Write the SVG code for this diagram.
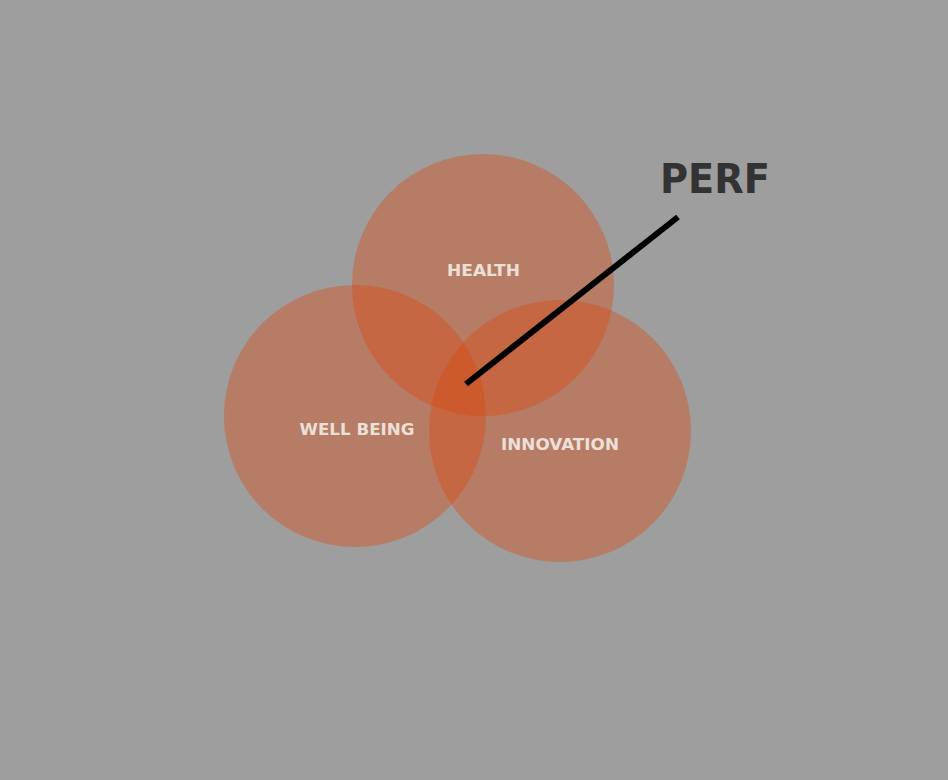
<svg xmlns="http://www.w3.org/2000/svg" width="948" height="780" viewBox="0 0 948 780">
  <style>
    .ring { fill: #da4910; fill-opacity: 0.4; }
    .lbl { font-family: "DejaVu Sans", "Liberation Sans", sans-serif; font-weight: bold; font-size: 16px; fill: #ebe0d8; text-anchor: middle; }
    .title { font-family: "DejaVu Sans", "Liberation Sans", sans-serif; font-weight: bold; font-size: 40px; fill: #333333; }
  </style>
  <rect width="948" height="780" fill="#9e9e9e"/>
  <g id="health">
    <circle class="ring" cx="483" cy="285" r="131"/>
  </g>
  <g id="well-being">
    <circle class="ring" cx="355" cy="416" r="131"/>
  </g>
  <g id="innovation">
    <circle class="ring" cx="560" cy="431" r="131"/>
  </g>
  <g id="labels">
    <text class="lbl" x="483.5" y="276" textLength="73" lengthAdjust="spacingAndGlyphs">HEALTH</text>
    <text class="lbl" x="357" y="435" textLength="115" lengthAdjust="spacingAndGlyphs">WELL BEING</text>
    <text class="lbl" x="560" y="450" textLength="118" lengthAdjust="spacingAndGlyphs">INNOVATION</text>
  </g>
  <g id="connectors">
    <line x1="466" y1="384" x2="678" y2="217" stroke="#000" stroke-width="6"/>
  </g>
  <g id="perf">
    <text class="title" x="660" y="193" textLength="110" lengthAdjust="spacingAndGlyphs">PERF</text>
  </g>
</svg>
